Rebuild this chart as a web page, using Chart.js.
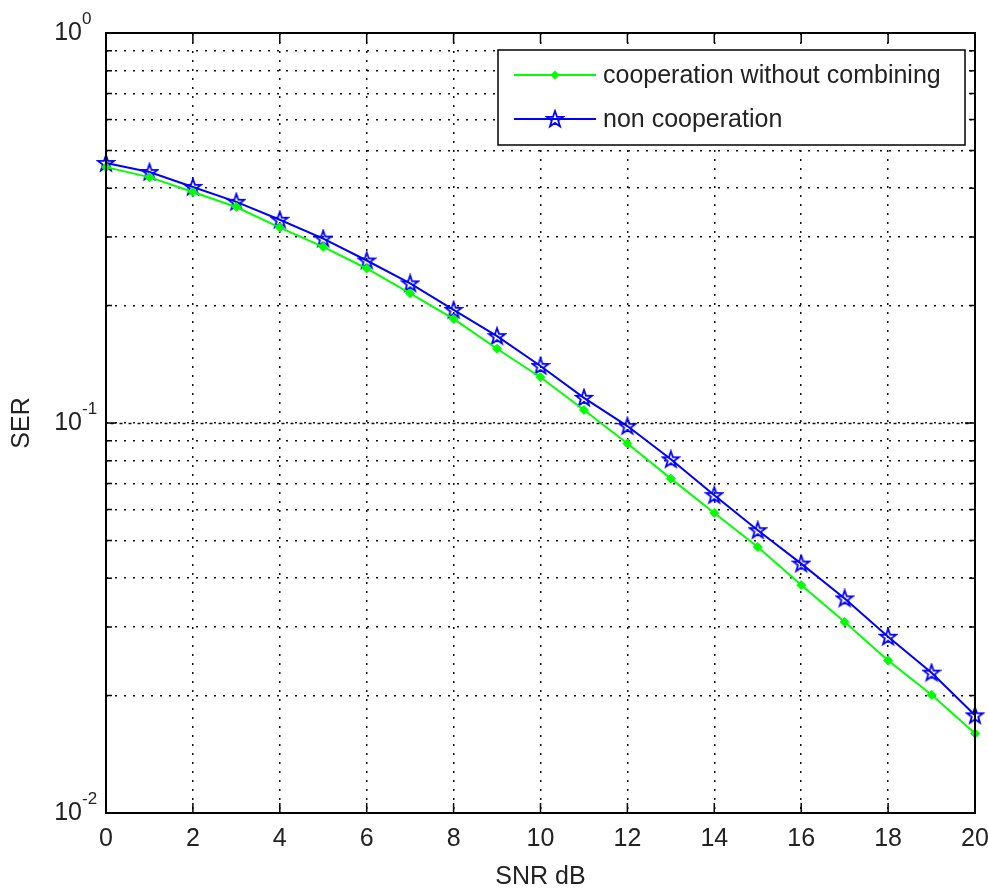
<!DOCTYPE html>
<html>
<head>
<meta charset="utf-8">
<script src="https://cdn.jsdelivr.net/npm/chart.js@4/dist/chart.umd.min.js"></script>
<style>
html, body { margin: 0; padding: 0; background: #fff; }
</style>
</head>
<body>
<canvas id="chart" width="988" height="890"></canvas>
<script>
// data
var snr = [0, 1, 2, 3, 4, 5, 6, 7, 8, 9, 10, 11, 12, 13, 14, 15, 16, 17, 18, 19, 20];
var serCoop = [0.453, 0.427, 0.391, 0.358, 0.317, 0.283, 0.249, 0.215, 0.185, 0.155, 0.131,
               0.108, 0.0886, 0.0720, 0.0588, 0.0481, 0.0384, 0.0309, 0.0246, 0.0201, 0.0160];
var serNonCoop = [0.464, 0.440, 0.403, 0.369, 0.332, 0.297, 0.261, 0.228, 0.195, 0.167, 0.140,
                  0.116, 0.0982, 0.0807, 0.0653, 0.0531, 0.0436, 0.0355, 0.0283, 0.0229, 0.0178];
var seriesNames = ['cooperation without combining', 'non cooperation'];
var seriesColors = ['#00ff00', '#0000ff'];

// axis ticks
var xTickValues = [0, 2, 4, 6, 8, 10, 12, 14, 16, 18, 20];
var yDecades = [1, 0.1, 0.01];
var yDecadeExp = ['0', '-1', '-2'];

var FONT = "'Liberation Sans', Arial, sans-serif";

// minor grid values 1..9 x decade
var yGridValues = [];
for (var d = 0.01; d < 1; d *= 10) {
    for (var k = 1; k <= 9; k++) {
        yGridValues.push(+(k * d).toPrecision(3));
    }
}
yGridValues.push(1);

// pentagram marker (matlab 'p')
function makeStar(color) {
    var c = document.createElement('canvas');
    c.width = 20;
    c.height = 20;
    var g = c.getContext('2d');
    var R = 8.5, r = 3.4;
    g.beginPath();
    for (var i = 0; i < 10; i++) {
        var rad = (i % 2 == 0) ? R : r;
        var a = -Math.PI / 2 + i * Math.PI / 5;
        var px = 10 + rad * Math.cos(a);
        var py = 10.5 + rad * Math.sin(a);
        if (i == 0) g.moveTo(px, py); else g.lineTo(px, py);
    }
    g.closePath();
    g.strokeStyle = color;
    g.lineWidth = 1.8;
    g.stroke();
    return c;
}
var starImg = makeStar(seriesColors[1]);

function pts(ys) {
    var out = [];
    for (var i = 0; i < snr.length; i++) out.push({ x: snr[i], y: ys[i] });
    return out;
}

// box, inward ticks, y tick labels, denser 10^-1 line, legend
var matlabAxes = {
    id: 'matlabAxes',
    afterDatasetsDraw: function (chart) {
        var ctx = chart.ctx;
        var a = chart.chartArea;
        var xs = chart.scales.x, ys = chart.scales.y;
        ctx.save();

        // 10^-1 major + minor grid overlap
        var y1 = Math.round(ys.getPixelForValue(0.1)) + 0.5;
        ctx.strokeStyle = '#111';
        ctx.lineWidth = 1.5;
        ctx.setLineDash([3, 6]);
        ctx.lineDashOffset = 4.5;
        ctx.beginPath();
        ctx.moveTo(a.left, y1);
        ctx.lineTo(a.right, y1);
        ctx.stroke();
        ctx.setLineDash([]);

        // box
        ctx.strokeStyle = '#000';
        ctx.lineWidth = 2;
        ctx.strokeRect(a.left, a.top, a.right - a.left, a.bottom - a.top);

        // ticks
        ctx.lineWidth = 1.5;
        ctx.beginPath();
        xTickValues.forEach(function (v) {
            var px = xs.getPixelForValue(v);
            ctx.moveTo(px, a.bottom); ctx.lineTo(px, a.bottom - 10);
            ctx.moveTo(px, a.top); ctx.lineTo(px, a.top + 10);
        });
        yGridValues.forEach(function (v) {
            var py = ys.getPixelForValue(v);
            var len = yDecades.indexOf(v) >= 0 ? 10 : 6;
            ctx.moveTo(a.left, py); ctx.lineTo(a.left + len, py);
            ctx.moveTo(a.right, py); ctx.lineTo(a.right - len, py);
        });
        ctx.stroke();

        // y tick labels 10^n
        ctx.fillStyle = '#222';
        ctx.textBaseline = 'middle';
        yDecades.forEach(function (v, i) {
            var py = ys.getPixelForValue(v);
            ctx.font = '25px ' + FONT;
            ctx.textAlign = 'right';
            ctx.fillText('10', 82, py);
            ctx.font = '17px ' + FONT;
            ctx.textAlign = 'left';
            ctx.fillText(yDecadeExp[i], 82, py - 14);
        });
        ctx.restore();
    },
    afterDraw: function (chart) {
        var ctx = chart.ctx;
        ctx.save();
        var bx = 498, by = 50, bw = 467, bh = 95;
        ctx.fillStyle = '#fff';
        ctx.fillRect(bx, by, bw, bh);
        ctx.strokeStyle = '#000';
        ctx.lineWidth = 1.5;
        ctx.strokeRect(bx, by, bw, bh);
        var rows = [75, 119];
        for (var i = 0; i < 2; i++) {
            var ry = rows[i];
            ctx.strokeStyle = seriesColors[i];
            ctx.lineWidth = 2;
            ctx.beginPath();
            ctx.moveTo(514, ry);
            ctx.lineTo(596, ry);
            ctx.stroke();
            if (i == 0) {
                ctx.fillStyle = seriesColors[0];
                ctx.beginPath();
                ctx.moveTo(555, ry - 4.5); ctx.lineTo(559.5, ry); ctx.lineTo(555, ry + 4.5); ctx.lineTo(550.5, ry);
                ctx.closePath();
                ctx.fill();
            } else {
                ctx.drawImage(starImg, 555 - 10, ry - 10);
            }
            ctx.fillStyle = '#222';
            ctx.font = '25px ' + FONT;
            ctx.textAlign = 'left';
            ctx.textBaseline = 'middle';
            ctx.fillText(seriesNames[i], 603, ry + 1);
        }
        ctx.restore();
    }
};

var ctx = document.getElementById('chart').getContext('2d');
var chart = new Chart(ctx, {
    type: 'line',
    data: {
        datasets: [{
            label: seriesNames[0],
            data: pts(serCoop),
            borderColor: seriesColors[0],
            backgroundColor: seriesColors[0],
            borderWidth: 2,
            pointStyle: 'rectRot',
            pointRadius: 4.5,
            pointBorderWidth: 1,
            clip: false,
            tension: 0
        }, {
            label: seriesNames[1],
            data: pts(serNonCoop),
            borderColor: seriesColors[1],
            backgroundColor: seriesColors[1],
            borderWidth: 2,
            pointStyle: starImg,
            clip: false,
            tension: 0
        }]
    },
    options: {
        responsive: false,
        animation: false,
        devicePixelRatio: 1,
        layout: { padding: { left: 0, right: 13, top: 33, bottom: 0 } },
        plugins: {
            legend: { display: false },
            tooltip: { enabled: false }
        },
        scales: {
            x: {
                type: 'linear',
                min: 0,
                max: 20,
                afterBuildTicks: function (s) {
                    s.ticks = xTickValues.map(function (v) { return { value: v }; });
                },
                afterFit: function (s) {
                    s.height = 77;
                    s.paddingLeft = 0;
                    s.paddingRight = 0;
                },
                ticks: {
                    color: '#222',
                    font: { family: FONT, size: 25 },
                    padding: 11,
                    maxRotation: 0,
                    autoSkip: false
                },
                grid: { color: '#111', lineWidth: 1.5, drawTicks: false },
                border: { display: false, dash: [2, 7] },
                title: {
                    display: true,
                    text: 'SNR dB',
                    color: '#222',
                    font: { family: FONT, size: 25, lineHeight: 1 },
                    padding: { top: 0, bottom: 0 }
                }
            },
            y: {
                type: 'logarithmic',
                min: 0.01,
                max: 1,
                afterBuildTicks: function (s) {
                    s.ticks = yGridValues.map(function (v) { return { value: v }; });
                },
                afterFit: function (s) { s.width = 106; },
                ticks: { display: false },
                grid: { color: '#111', lineWidth: 1.5, drawTicks: false },
                border: { display: false, dash: [2, 7] },
                title: {
                    display: true,
                    text: 'SER',
                    color: '#222',
                    font: { family: FONT, size: 25, lineHeight: 1 },
                    padding: { top: 10, bottom: 0 }
                }
            }
        }
    },
    plugins: [matlabAxes]
});
</script>
</body>
</html>
